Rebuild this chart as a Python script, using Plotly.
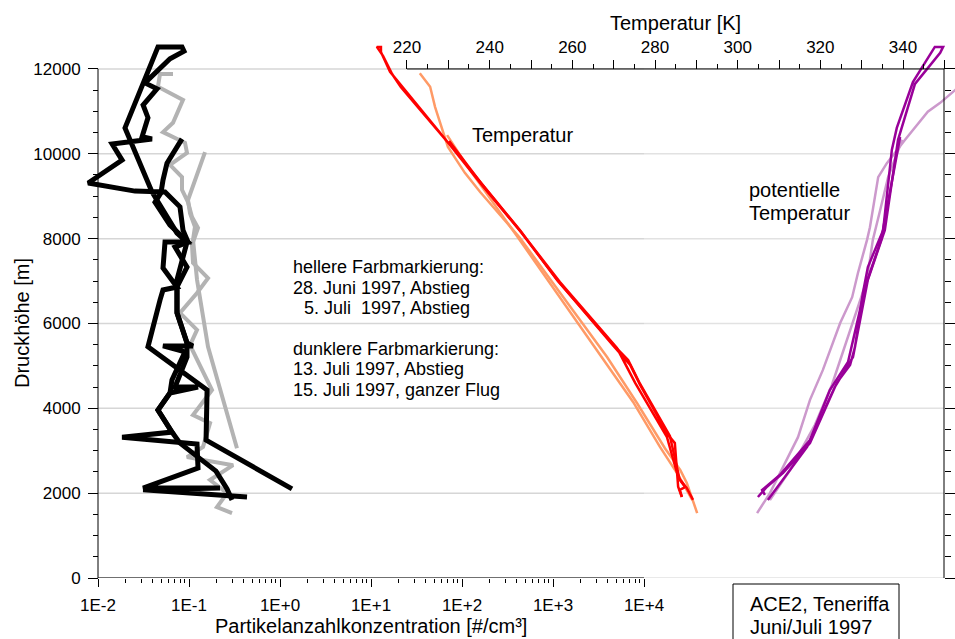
import plotly.graph_objects as go

W, H = 955, 639

# ---------------- particle number concentration [#/cm3] vs. pressure altitude [m]
# 15 July 1997, whole flight (dark)
conc_15jul = [0.297, 0.262, 0.198, 0.0796, 0.0650, 0.0456, 0.0618, 0.1256, 0.0702, 0.0951,
              0.0951, 0.0738, 0.0738, 0.0951, 0.0738, 0.0456, 0.0392, 0.0198, 0.0456, 0.0838,
              0.0881, 0.0618, 0.0328, 0.0445, 0.0313, 0.0354, 0.0305, 0.0392, 0.0143, 0.0184,
              0.0078, 0.0255, 0.0545, 0.0796, 0.0859, 0.0975, 0.0545, 0.0518, 0.0738, 0.0518,
              0.0480, 0.0354, 0.0796, 0.158, 0.154, 1.355]
alt_15jul = [1840, 2100, 2520, 3180, 3440, 3960, 4360, 4500, 4500, 5210,
             5540, 6250, 7030, 7920, 8130, 8840, 9100, 10610, 12520, 12520,
             12420, 12240, 11670, 11530, 11150, 10850, 10400, 10350, 10230, 9850,
             9310, 9120, 9100, 8750, 8200, 7920, 7920, 7310, 6860, 6790,
             6550, 5450, 4900, 4430, 3250, 2100]

# 13 July 1997, descent (dark)
conc_13jul = [0.0838, 0.0573, 0.0518, 0.0492, 0.0423, 0.0618, 0.0975, 0.0702, 0.0951, 0.0738,
              0.0738, 0.0951, 0.1107, 0.0518, 0.0904, 0.0650, 0.0618, 0.0456, 0.0650, 0.0184,
              0.1225, 0.1256, 0.0313, 0.219, 0.0313, 0.434]
alt_13jul = [10350, 9780, 9380, 9080, 8860, 8320, 7920, 7800, 7330, 6860,
             6250, 5540, 5470, 5470, 5330, 4670, 4360, 3960, 3440, 3320,
             3160, 2590, 2120, 2120, 2080, 1910]

# 28 June 1997, descent (light)
conc_28jun = [0.0667, 0.0480, 0.0456, 0.0859, 0.0667, 0.0518, 0.0904, 0.0951, 0.0618, 0.0838,
              0.0838, 0.0975, 0.1079, 0.1256, 0.1079, 0.1107, 0.1618, 0.1225, 0.0796, 0.1225,
              0.1026, 0.1225, 0.179, 0.1107, 0.1703, 0.1426, 0.0951, 0.305, 0.1703, 0.262,
              0.203, 0.297]
alt_28jun = [11880, 11880, 11580, 11270, 10730, 10510, 10260, 10020, 9740, 9450,
             9150, 8860, 8510, 8250, 7850, 7430, 7070, 6720, 6250, 5850,
             5490, 5140, 4430, 3840, 3650, 3090, 2850, 2660, 2310, 2000,
             1670, 1530]

# 5 July 1997, descent (light)
conc_05jul = [0.150, 0.1163, 0.0975, 0.1026, 0.1163, 0.1107, 0.1163, 0.1225, 0.1618, 0.3365]
alt_05jul = [10040, 9380, 8910, 8600, 8280, 7970, 7500, 7030, 5450, 3060]

# ---------------- temperature [K]
temp_15jul = [286.5, 285.6, 284.8, 283.2, 276.4, 274.0, 269.8, 256.3, 247.3, 237.7,
              229.9, 218.3, 215.9, 213.7, 213.7, 212.7, 214.2, 216.4, 218.5, 230.4,
              238.1, 247.8, 257.0, 270.8, 275.2, 282.9, 285.6, 287.7, 289.2]
talt_15jul = [1910, 2150, 3180, 3370, 4550, 5020, 5490, 7030, 8200, 9340,
              10260, 11620, 11930, 12400, 12520, 12520, 12310, 11880, 11575, 10208,
              9265, 8130, 6978, 5420, 4600, 3320, 2380, 2120, 1840]

temp_13jul = [230.2, 237.9, 247.6, 256.5, 270.4, 273.5, 276.4, 283.6, 286.0, 287.3, 286.0, 286.5]
talt_13jul = [10302, 9312, 8157, 7002, 5446, 5139, 4574, 3348, 2310, 2145, 2075, 1910]

temp_28jun = [223.1, 225.6, 226.8, 228.5, 229.9, 234.0, 237.7, 247.3, 255.3, 268.4,
              275.6, 282.4, 286.1, 287.7, 290.2]
talt_28jun = [11900, 11580, 11100, 10560, 10160, 9550, 9100, 8020, 6950, 5210,
              4130, 3060, 2550, 2240, 1530]

temp_05jul = [229.7, 235.2, 246.6, 254.6, 267.4, 274.7, 281.2, 285.6, 289.0]
talt_05jul = [10440, 9620, 8060, 6950, 5190, 4150, 3090, 2430, 1840]

# ---------------- potential temperature [K]
theta_15jul = [304.9, 307.1, 311.0, 317.5, 324.0, 327.2, 328.4, 330.3, 331.5, 335.2,
               337.3, 338.5, 342.4, 347.7, 349.7, 349.0, 342.9, 338.8, 335.6, 331.5,
               327.9, 323.5, 316.8, 307.3]
thalt_15jul = [1910, 2150, 2480, 3180, 4600, 5020, 5450, 6720, 7330, 8200,
               10090, 10610, 11690, 12520, 12520, 12380, 11646, 10330, 8200, 7030,
               5210, 4500, 3090, 1840]

theta_13jul = [339.3, 336.4, 334.7, 331.0, 327.7, 326.7, 322.3, 317.5, 310.2, 305.9, 306.6]
thalt_13jul = [10397, 8911, 7968, 6908, 5493, 5092, 4432, 3253, 2428, 2075, 1957]

theta_28jun = [354.0, 352.6, 349.0, 346.0, 340.5, 336.1, 334.0, 332.0, 331.3, 329.1,
               327.7, 324.8, 320.6, 317.5, 314.6, 307.8, 304.7]
thalt_28jun = [11650, 11500, 11200, 10990, 10330, 9780, 9450, 8270, 7970, 7190,
               6620, 6010, 4900, 4200, 3320, 2000, 1530]

theta_05jul = [339.8, 336.4, 334.5, 332.7, 331.3, 327.2, 322.8, 318.7, 312.7, 307.8]
thalt_05jul = [10330, 9450, 8680, 7970, 7030, 5850, 4550, 3610, 2550, 1840]

# ---------------- axis ticks
conc_ticks = [1e-2, 1e-1, 1e0, 1e1, 1e2, 1e3, 1e4]
conc_labels = ["1E-2", "1E-1", "1E+0", "1E+1", "1E+2", "1E+3", "1E+4"]
conc_minor = [m * 10.0 ** d for d in range(-2, 4) for m in range(2, 10)]

temp_ticks = list(range(220, 351, 10))
temp_labels = [str(t) if (t % 20 == 0 and t <= 340) else "" for t in temp_ticks]
temp_minor = list(range(225, 350, 10))

alt_ticks = list(range(0, 12001, 2000))
alt_labels = [str(a) for a in alt_ticks]
alt_minor = [a for a in range(500, 12000, 500) if a % 2000 != 0]

# ---------------- colours
BLACK = "#000000"
GRAY = "#b3b3b3"
RED = "#ff0000"
ORANGE = "#ff9a66"
PURPLE = "#990099"
LILAC = "#cc99cc"

FONT = "Liberation Sans, Arial, Helvetica, sans-serif"


def px_x(px):
    return px / W


def px_y(py):
    return 1 - py / H


fig = go.Figure()


def add_line(x, y, color, width, xaxis="x"):
    fig.add_trace(go.Scatter(x=x, y=y, mode="lines", xaxis=xaxis, yaxis="y",
                             line=dict(color=color, width=width),
                             showlegend=False, hoverinfo="skip"))


# particle concentration profiles
add_line(conc_28jun, alt_28jun, GRAY, 4)
add_line(conc_05jul, alt_05jul, GRAY, 4)
add_line(conc_13jul, alt_13jul, BLACK, 5)
add_line(conc_15jul, alt_15jul, BLACK, 5)

# temperature profiles
add_line(temp_28jun, talt_28jun, ORANGE, 2.5, "x2")
add_line(temp_05jul, talt_05jul, ORANGE, 2.5, "x2")
add_line(temp_13jul, talt_13jul, RED, 2.5, "x2")
add_line(temp_15jul, talt_15jul, RED, 2.5, "x2")

# potential temperature profiles
add_line(theta_28jun, thalt_28jun, LILAC, 2.5, "x2")
add_line(theta_05jul, thalt_05jul, LILAC, 2.5, "x2")
add_line(theta_13jul, thalt_13jul, PURPLE, 2.5, "x2")
add_line(theta_15jul, thalt_15jul, PURPLE, 2.5, "x2")

# empty trace so the right-hand altitude axis gets drawn
fig.add_trace(go.Scatter(x=[], y=[], xaxis="x", yaxis="y2", showlegend=False))

tick_common = dict(ticks="outside", tickcolor="black", tickwidth=1, automargin=False,
                   showline=False, showgrid=False, zeroline=False,
                   tickfont=dict(size=17, color="black", family=FONT))

y_top = 12800

fig.update_layout(
    width=W, height=H, autosize=False,
    margin=dict(l=0, r=0, t=0, b=0, pad=0, autoexpand=False),
    paper_bgcolor="white", plot_bgcolor="white",
    font=dict(family=FONT, color="black"),
    xaxis=dict(type="log", range=[-2.1978, 7.4176], domain=[80 / W, 1], anchor="y",
               tickmode="array", tickvals=conc_ticks, ticktext=conc_labels, ticklen=8,
               ticklabelstandoff=4,
               minor=dict(tickmode="array", tickvals=conc_minor, ticks="outside",
                          ticklen=4, tickcolor="black", showgrid=False),
               **tick_common),
    xaxis2=dict(range=[140.89, 352.58], overlaying="x", anchor="free",
                position=px_y(69), side="top",
                tickmode="array", tickvals=temp_ticks, ticktext=temp_labels, ticklen=9,
                minor=dict(tickmode="array", tickvals=temp_minor, ticks="outside",
                           ticklen=5, tickcolor="black", showgrid=False),
                **tick_common),
    yaxis=dict(range=[0, y_top], domain=[px_y(578), px_y(35)], anchor="free",
               position=px_x(98), tickmode="array", tickvals=alt_ticks,
               ticktext=alt_labels, ticklen=10, ticklabelstandoff=4,
               minor=dict(tickmode="array", tickvals=alt_minor, ticks="outside",
                          ticklen=5, tickcolor="black", showgrid=False),
               **tick_common),
    yaxis2=dict(range=[0, y_top], overlaying="y", side="right", anchor="free",
                position=px_x(944), tickmode="array", tickvals=alt_ticks, ticklen=10,
                showticklabels=False,
                minor=dict(tickmode="array", tickvals=alt_minor, ticks="outside",
                           ticklen=6, tickcolor="black", showgrid=False),
                **{k: v for k, v in tick_common.items() if k != "tickfont"}),
)

shapes = []
# horizontal grid lines between the two altitude axes
for a in alt_ticks:
    shapes.append(dict(type="line", xref="paper", yref="y", x0=px_x(98), x1=px_x(644),
                       y0=a, y1=a, line=dict(color="#d6d6d6", width=1.5), layer="below"))
    shapes.append(dict(type="line", xref="paper", yref="y", x0=px_x(644), x1=px_x(944),
                       y0=a, y1=a, line=dict(color="#e2e2e2", width=1.5), layer="below"))
# axis lines
shapes += [
    dict(type="line", xref="paper", yref="y", x0=px_x(98), x1=px_x(98), y0=0, y1=12000,
         line=dict(color="black", width=1)),
    dict(type="line", xref="paper", yref="y", x0=px_x(944), x1=px_x(944), y0=0, y1=12000,
         line=dict(color="black", width=1)),
    dict(type="line", xref="paper", yref="y", x0=px_x(98), x1=px_x(644), y0=0, y1=0,
         line=dict(color="black", width=1)),
    dict(type="line", xref="x2", yref="y", x0=220, x1=350, y0=12000, y1=12000,
         line=dict(color="black", width=1)),
    # location box
    dict(type="rect", xref="paper", yref="paper", x0=px_x(733), x1=px_x(899),
         y0=px_y(660), y1=px_y(584), line=dict(color="black", width=1),
         fillcolor="rgba(0,0,0,0)"),
]
fig.update_layout(shapes=shapes)


def label(text, x, y, size, xanchor="left", textangle=0):
    fig.add_annotation(text=text, x=px_x(x), y=px_y(y), xref="paper", yref="paper",
                       showarrow=False, xanchor=xanchor, yanchor="middle",
                       textangle=textangle,
                       font=dict(size=size, color="black", family=FONT))


label("Temperatur [K]", 675, 23, 20, "center")
label("Partikelanzahlkonzentration [#/cm³]", 371, 626, 20, "center")
label("Druckhöhe [m]", 22, 323, 20, "center", -90)

label("Temperatur", 470, 135, 20)
label("potentielle", 747, 190, 20)
label("Temperatur", 747, 213, 20)

label("hellere Farbmarkierung:", 291, 267, 18)
label("28. Juni 1997, Abstieg", 291, 288, 18)
label("5. Juli\u00a0 1997, Abstieg", 302, 308, 18)
label("dunklere Farbmarkierung:", 291, 349, 18)
label("13. Juli 1997, Abstieg", 291, 369, 18)
label("15. Juli 1997, ganzer Flug", 291, 390, 18)

label("ACE2, Teneriffa", 748, 604, 20)
label("Juni/Juli 1997", 748, 627, 20)

fig.write_html("out.html")
